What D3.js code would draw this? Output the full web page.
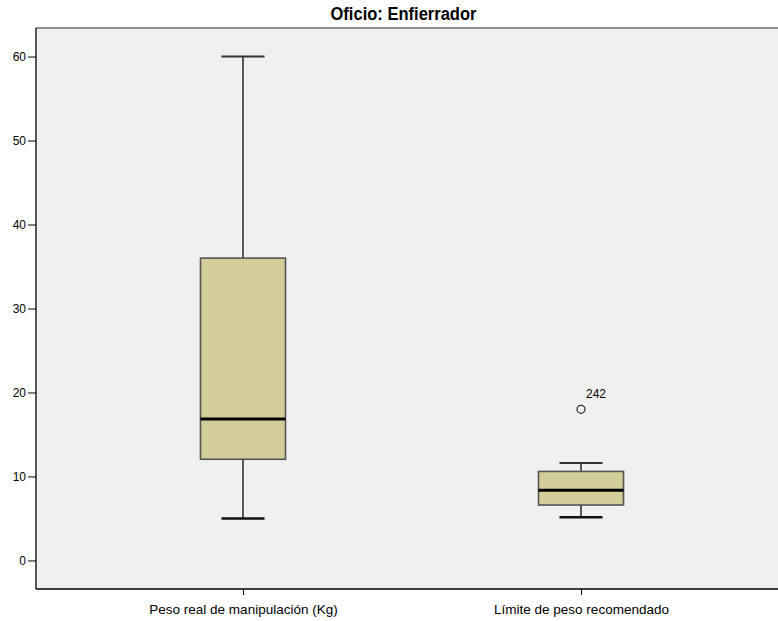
<!DOCTYPE html>
<html>
<head>
<meta charset="utf-8">
<script src="https://cdn.jsdelivr.net/npm/d3@7"></script>
<style>
  html, body { margin: 0; padding: 0; background: #ffffff; }
  svg { display: block; }
</style>
</head>
<body>
<svg id="chart" width="778" height="621"></svg>
<script>
// Box plot summaries for each variable
const categories = ["Peso real de manipulación (Kg)", "Límite de peso recomendado"];
const whiskerLow  = [5.0, 5.15];
const q1          = [12.05, 6.6];
const median      = [16.85, 8.35];
const q3          = [36.0, 10.6];
const whiskerHigh = [60.0, 11.6];
const outliers    = [[], [{ value: 18.0, label: "242" }]];
const yTicks = [0, 10, 20, 30, 40, 50, 60];
const title = "Oficio: Enfierrador";

const svg = d3.select("#chart");
const plot = { left: 36, right: 788, top: 28, bottom: 589 };

const y = d3.scaleLinear().domain([-3.4, 63.4]).range([plot.bottom, plot.top]);
const x = d3.scalePoint().domain(categories).range([plot.left, plot.right]).padding(0.6124);

// plot background and frame
svg.append("rect")
  .attr("x", plot.left).attr("y", plot.top)
  .attr("width", plot.right - plot.left).attr("height", plot.bottom - plot.top)
  .attr("fill", "#f0f0f0");
svg.append("line")
  .attr("x1", plot.left).attr("x2", plot.right)
  .attr("y1", plot.top).attr("y2", plot.top)
  .attr("stroke", "#6e6e6e").attr("stroke-width", 1.5);

// title (condensed bold)
svg.append("text")
  .attr("x", 403.5).attr("y", 20)
  .attr("text-anchor", "middle")
  .attr("textLength", 146)
  .attr("lengthAdjust", "spacingAndGlyphs")
  .style("font-family", "'Liberation Sans Narrow', 'Arial Narrow', 'Liberation Sans', sans-serif")
  .style("font-weight", "bold")
  .style("font-size", "17.5px")
  .attr("fill", "#000")
  .text(title);

// axes
const yAxis = svg.append("g")
  .attr("transform", `translate(${plot.left},0)`)
  .call(d3.axisLeft(y).tickValues(yTicks).tickSize(8).tickPadding(2).tickFormat(d3.format("d")));
const xAxis = svg.append("g")
  .attr("transform", `translate(0,${plot.bottom})`)
  .call(d3.axisBottom(x).tickSize(6).tickPadding(9));

[yAxis, xAxis].forEach(g => {
  g.select(".domain").attr("stroke", "#000").attr("stroke-width", 1.3);
  g.selectAll(".tick line").attr("stroke", "#000").attr("stroke-width", 1);
  g.selectAll("text")
    .style("font-family", "'Liberation Sans', Arial, sans-serif")
    .style("font-size", "12px")
    .attr("fill", "#000");
});
xAxis.selectAll("text").style("font-size", "13.5px");
yAxis.select(".domain").attr("d", `M0,${plot.top}V${plot.bottom}`);
xAxis.select(".domain").attr("d", `M${plot.left},0H${plot.right}`);

// boxes
const boxW = 85, capW = 43;
const rows = categories.map((c, i) => ({
  c, lo: whiskerLow[i], q1: q1[i], med: median[i], q3: q3[i], hi: whiskerHigh[i], out: outliers[i]
}));

const g = svg.append("g");
rows.forEach(r => {
  const cx = x(r.c);
  // whisker stems
  g.append("line").attr("x1", cx).attr("x2", cx).attr("y1", y(r.hi)).attr("y2", y(r.q3))
    .attr("stroke", "#333").attr("stroke-width", 1.6);
  g.append("line").attr("x1", cx).attr("x2", cx).attr("y1", y(r.q1)).attr("y2", y(r.lo))
    .attr("stroke", "#333").attr("stroke-width", 1.6);
  // caps
  g.append("line").attr("x1", cx - capW / 2).attr("x2", cx + capW / 2).attr("y1", y(r.hi)).attr("y2", y(r.hi))
    .attr("stroke", "#333").attr("stroke-width", 2);
  g.append("line").attr("x1", cx - capW / 2).attr("x2", cx + capW / 2).attr("y1", y(r.lo)).attr("y2", y(r.lo))
    .attr("stroke", "#111").attr("stroke-width", 2.4);
  // box
  g.append("rect")
    .attr("x", cx - boxW / 2).attr("y", y(r.q3))
    .attr("width", boxW).attr("height", y(r.q1) - y(r.q3))
    .attr("fill", "#d3ce99").attr("stroke", "#555").attr("stroke-width", 1.6);
  // median
  g.append("line").attr("x1", cx - boxW / 2).attr("x2", cx + boxW / 2).attr("y1", y(r.med)).attr("y2", y(r.med))
    .attr("stroke", "#000").attr("stroke-width", 3);
  // outliers
  r.out.forEach(o => {
    g.append("circle").attr("cx", cx).attr("cy", y(o.value)).attr("r", 4)
      .attr("fill", "none").attr("stroke", "#333").attr("stroke-width", 1.3);
    g.append("text").attr("x", cx + 5).attr("y", y(o.value) - 11)
      .style("font-family", "'Liberation Sans', Arial, sans-serif")
      .style("font-size", "12px").attr("fill", "#000")
      .text(o.label);
  });
});
</script>
</body>
</html>
